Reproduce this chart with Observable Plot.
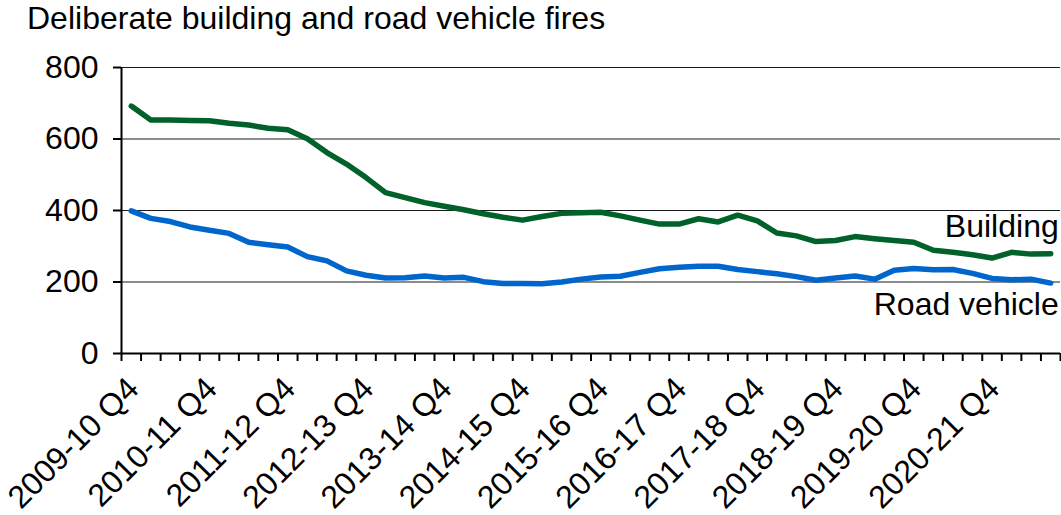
<!DOCTYPE html>
<html><head><meta charset="utf-8">
<script src="https://cdn.jsdelivr.net/npm/d3@7"></script>
<script src="https://cdn.jsdelivr.net/npm/@observablehq/plot@0.6"></script>
<style>
body{margin:0;background:#fff;font-family:"Liberation Sans",Arial,sans-serif;}
#title{height:44px;font-size:32px;line-height:36px;padding-left:27px;white-space:nowrap;color:#000;}
</style></head>
<body>
<div id="title">Deliberate building and road vehicle fires</div>
<div id="chart"></div>
<script>
const quarters = [
 "2009-10 Q4","2010-11 Q1","2010-11 Q2","2010-11 Q3","2010-11 Q4","2011-12 Q1","2011-12 Q2","2011-12 Q3",
 "2011-12 Q4","2012-13 Q1","2012-13 Q2","2012-13 Q3","2012-13 Q4","2013-14 Q1","2013-14 Q2","2013-14 Q3",
 "2013-14 Q4","2014-15 Q1","2014-15 Q2","2014-15 Q3","2014-15 Q4","2015-16 Q1","2015-16 Q2","2015-16 Q3",
 "2015-16 Q4","2016-17 Q1","2016-17 Q2","2016-17 Q3","2016-17 Q4","2017-18 Q1","2017-18 Q2","2017-18 Q3",
 "2017-18 Q4","2018-19 Q1","2018-19 Q2","2018-19 Q3","2018-19 Q4","2019-20 Q1","2019-20 Q2","2019-20 Q3",
 "2019-20 Q4","2020-21 Q1","2020-21 Q2","2020-21 Q3","2020-21 Q4","2021-22 Q1","2021-22 Q2","2021-22 Q3"
];
const tickLabels = ["2009-10 Q4","2010-11 Q4","2011-12 Q4","2012-13 Q4","2013-14 Q4","2014-15 Q4",
 "2015-16 Q4","2016-17 Q4","2017-18 Q4","2018-19 Q4","2019-20 Q4","2020-21 Q4"];
const building = [692,653,653,652,651,644,639,630,626,601,562,530,492,450,436,422,412,402,391,381,
 373,383,392,394,395,385,373,362,362,377,368,387,371,337,329,313,316,327,321,316,311,289,283,276,267,283,278,279];
const roadVehicle = [399,378,369,354,345,336,311,304,298,271,259,231,219,211,212,217,211,213,201,196,
 196,195,200,208,214,216,227,237,241,244,244,235,229,223,215,205,211,217,208,233,238,234,235,224,210,206,208,197];
const yTicks = [0,200,400,600,800];
const seriesNames = ["Building","Road vehicle"];

const rows = [];
quarters.forEach((q,i)=>{
  rows.push({i, quarter:q, series:"Building", value:building[i]});
  rows.push({i, quarter:q, series:"Road vehicle", value:roadVehicle[i]});
});
const labelIdx = tickLabels.map(t => quarters.indexOf(t));
const boundaries = d3.range(quarters.length + 1).map(k => k - 0.5);
const last = quarters.length - 1;
const ends = [
  {i:last, value:building[last], name:seriesNames[0]},
  {i:last, value:roadVehicle[last], name:seriesNames[1]}
];

const chart = Plot.plot({
  width:1061, height:471,
  marginLeft:121, marginRight:1, marginTop:23, marginBottom:162,
  style:{fontFamily:"'Liberation Sans', Arial, sans-serif", fontSize:"32px", color:"#000", background:"#fff"},
  x:{type:"linear", domain:[-0.5, quarters.length - 0.5]},
  y:{domain:[0,800]},
  color:{domain:seriesNames, range:["#00612a","#0066cc"]},
  marks:[
    Plot.ruleY([200,400,600,800], {stroke:"#000", strokeWidth:1, strokeOpacity:0.9}),
    Plot.axisY({ticks:yTicks, tickSize:8, tickPadding:15, stroke:"#000", strokeWidth:2, strokeOpacity:1, fontSize:32, label:null}),
    Plot.axisX({ticks:boundaries, tickSize:8, tickFormat:()=>"", stroke:"#000", strokeWidth:2, strokeOpacity:1, label:null}),
    Plot.ruleX([-0.5], {stroke:"#000", strokeWidth:2}),
    Plot.ruleY([0], {stroke:"#000", strokeWidth:2}),
    Plot.line(rows, {x:"i", y:"value", z:"series", stroke:"series", strokeWidth:5.5, strokeLinejoin:"round", strokeLinecap:"round"}),
    Plot.text(labelIdx, {x:d=>d, frameAnchor:"bottom", text:d=>quarters[d], rotate:-45, textAnchor:"end", lineAnchor:"middle", dy:30, dx:2, fontSize:32, fill:"#000"}),
    Plot.text(ends.slice(0,1), {x:"i", y:"value", text:"name", textAnchor:"end", dx:8, dy:-27, fontSize:32, fill:"#000"}),
    Plot.text(ends.slice(1), {x:"i", y:"value", text:"name", textAnchor:"end", dx:8, dy:22, fontSize:32, fill:"#000"})
  ]
});
document.getElementById("chart").appendChild(chart);
</script>
</body></html>
